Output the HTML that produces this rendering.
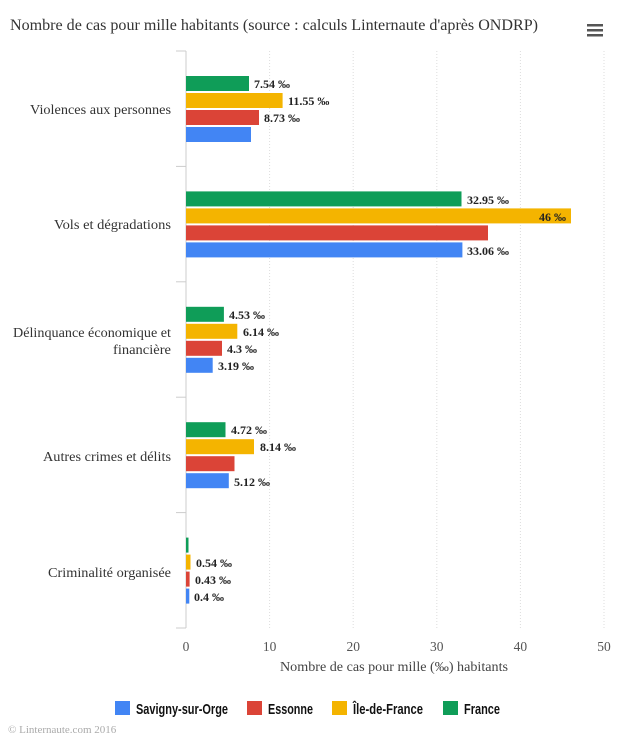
<!DOCTYPE html>
<html><head><meta charset="utf-8"><style>
html,body{margin:0;padding:0;background:#fff;}
svg{display:block;}
.t{font-family:"Liberation Serif",serif;}
.v{font-family:"Liberation Serif",serif;font-weight:bold;font-size:12px;fill:#222;}
.c{font-family:"Liberation Serif",serif;font-size:14px;fill:#333;}
.l{font-family:"Liberation Sans",sans-serif;font-weight:bold;font-size:15px;fill:#111;}
</style></head><body>
<svg width="625" height="743" viewBox="0 0 625 743" xmlns="http://www.w3.org/2000/svg">
<text x="10" y="30" class="t" font-size="15.5" fill="#333" textLength="528" lengthAdjust="spacingAndGlyphs">Nombre de cas pour mille habitants (source : calculs Linternaute d'après ONDRP)</text>
<g fill="#555"><rect x="587" y="24" width="16" height="2.5"/><rect x="587" y="29" width="16" height="2.5"/><rect x="587" y="34" width="16" height="2.5"/></g>
<g stroke="#ddd" stroke-dasharray="1,2"><line x1="269.6" y1="51" x2="269.6" y2="628"/><line x1="353.2" y1="51" x2="353.2" y2="628"/><line x1="436.8" y1="51" x2="436.8" y2="628"/><line x1="520.4" y1="51" x2="520.4" y2="628"/><line x1="604" y1="51" x2="604" y2="628"/></g>
<line x1="186" y1="51" x2="186" y2="628" stroke="#ccc"/>
<g stroke="#ccc"><line x1="176" y1="51" x2="186" y2="51"/><line x1="176" y1="166.4" x2="186" y2="166.4"/><line x1="176" y1="281.8" x2="186" y2="281.8"/><line x1="176" y1="397.2" x2="186" y2="397.2"/><line x1="176" y1="512.6" x2="186" y2="512.6"/><line x1="176" y1="628" x2="186" y2="628"/></g>
<rect x="186" y="76" width="63" height="15" fill="#0f9d58"/><rect x="186" y="93" width="96.6" height="15" fill="#f4b400"/><rect x="186" y="110" width="73" height="15" fill="#db4437"/><rect x="186" y="127" width="65" height="15" fill="#4285f4"/>
<text x="254" y="88" class="v">7.54 ‰</text><text x="288" y="105" class="v">11.55 ‰</text><text x="264" y="122" class="v">8.73 ‰</text>
<text x="30" y="114" class="c" textLength="141" lengthAdjust="spacingAndGlyphs">Violences aux personnes</text>
<rect x="186" y="191.4" width="275.5" height="15" fill="#0f9d58"/><rect x="186" y="208.4" width="385" height="15" fill="#f4b400"/><rect x="186" y="225.4" width="302" height="15" fill="#db4437"/><rect x="186" y="242.4" width="276.4" height="15" fill="#4285f4"/>
<text x="467" y="204" class="v">32.95 ‰</text><text x="566" y="221" class="v" text-anchor="end">46 ‰</text><text x="467" y="255" class="v">33.06 ‰</text>
<text x="54" y="229" class="c" textLength="117" lengthAdjust="spacingAndGlyphs">Vols et dégradations</text>
<rect x="186" y="306.8" width="37.9" height="15" fill="#0f9d58"/><rect x="186" y="323.8" width="51.3" height="15" fill="#f4b400"/><rect x="186" y="340.8" width="36" height="15" fill="#db4437"/><rect x="186" y="357.8" width="26.7" height="15" fill="#4285f4"/>
<text x="229" y="319" class="v">4.53 ‰</text><text x="243" y="336" class="v">6.14 ‰</text><text x="227" y="353" class="v">4.3 ‰</text><text x="218" y="370" class="v">3.19 ‰</text>
<text x="13" y="337" class="c" textLength="158" lengthAdjust="spacingAndGlyphs">Délinquance économique et</text>
<text x="113" y="354" class="c" textLength="58" lengthAdjust="spacingAndGlyphs">financière</text>
<rect x="186" y="422.2" width="39.5" height="15" fill="#0f9d58"/><rect x="186" y="439.2" width="68" height="15" fill="#f4b400"/><rect x="186" y="456.2" width="48.5" height="15" fill="#db4437"/><rect x="186" y="473.2" width="42.8" height="15" fill="#4285f4"/>
<text x="231" y="434" class="v">4.72 ‰</text><text x="260" y="451" class="v">8.14 ‰</text><text x="234" y="486" class="v">5.12 ‰</text>
<text x="43" y="461" class="c" textLength="128" lengthAdjust="spacingAndGlyphs">Autres crimes et délits</text>
<rect x="186" y="537.6" width="2.5" height="15" fill="#0f9d58"/><rect x="186" y="554.6" width="4.5" height="15" fill="#f4b400"/><rect x="186" y="571.6" width="3.6" height="15" fill="#db4437"/><rect x="186" y="588.6" width="3.3" height="15" fill="#4285f4"/>
<text x="196" y="567" class="v">0.54 ‰</text><text x="195" y="584" class="v">0.43 ‰</text><text x="194" y="601" class="v">0.4 ‰</text>
<text x="48" y="577" class="c" textLength="123" lengthAdjust="spacingAndGlyphs">Criminalité organisée</text>
<g class="t" font-size="13.5" fill="#555" text-anchor="middle"><text x="186" y="651">0</text><text x="269.6" y="651">10</text><text x="353.2" y="651">20</text><text x="436.8" y="651">30</text><text x="520.4" y="651">40</text><text x="604" y="651">50</text></g>
<text x="280" y="671" class="t" font-size="14" fill="#444" textLength="228" lengthAdjust="spacingAndGlyphs">Nombre de cas pour mille (‰) habitants</text>
<rect x="115" y="701" width="15" height="14" fill="#4285f4"/><text x="136" y="714" class="l" textLength="92" lengthAdjust="spacingAndGlyphs">Savigny-sur-Orge</text>
<rect x="247" y="701" width="15" height="14" fill="#db4437"/><text x="268" y="714" class="l" textLength="45" lengthAdjust="spacingAndGlyphs">Essonne</text>
<rect x="332" y="701" width="15" height="14" fill="#f4b400"/><text x="353" y="714" class="l" textLength="70" lengthAdjust="spacingAndGlyphs">Île-de-France</text>
<rect x="443" y="701" width="15" height="14" fill="#0f9d58"/><text x="464" y="714" class="l" textLength="36" lengthAdjust="spacingAndGlyphs">France</text>
<text x="8" y="733" class="t" font-size="11" fill="#aaa">© Linternaute.com 2016</text>
</svg>
</body></html>
